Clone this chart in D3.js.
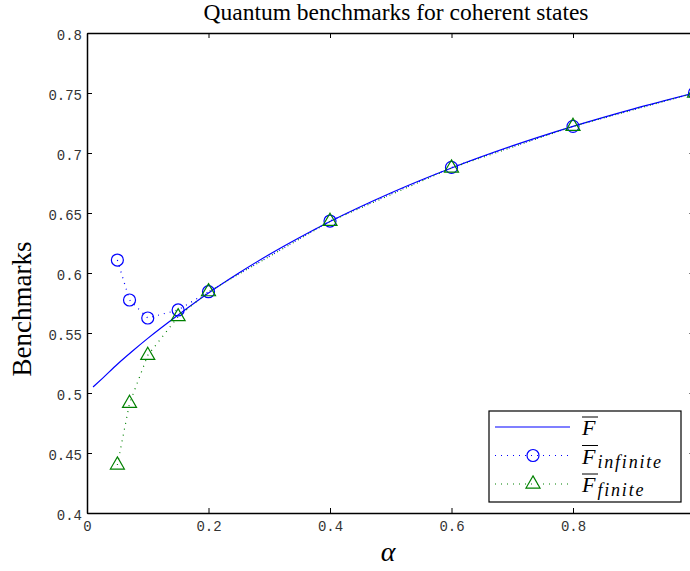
<!DOCTYPE html>
<html>
<head>
<meta charset="utf-8">
<script src="https://cdn.jsdelivr.net/npm/d3@7"></script>
<style>
  body { margin: 0; background: #fff; }
  .tick text { font-family: "Liberation Mono", "DejaVu Sans Mono", monospace; font-size: 14px; fill: #333; }
</style>
</head>
<body>
<div id="chart"></div>
<script>
// curve F(alpha)
const alphaCurve = [0.01, 0.025, 0.05, 0.075, 0.1, 0.15, 0.2, 0.25, 0.3, 0.35, 0.4, 0.5, 0.6, 0.7, 0.8, 0.9, 1.0]
const fCurve = [0.505, 0.512, 0.524, 0.535, 0.5455, 0.565, 0.5833, 0.600, 0.6154, 0.6296, 0.6429, 0.6667, 0.6875, 0.7059, 0.7222, 0.7368, 0.75]

// marker series
const alphaPts = [0.05, 0.07, 0.1, 0.15, 0.2, 0.4, 0.6, 0.8, 1.0]
const fInfinite = [0.6108, 0.5775, 0.5625, 0.5692, 0.5844, 0.6433, 0.688, 0.7222, 0.75]
const fFinite = [0.44, 0.4914, 0.5314, 0.5636, 0.5844, 0.643, 0.6875, 0.7222, 0.75]

const xTicks = [0, 0.2, 0.4, 0.6, 0.8, 1]
const yTicks = [0.4, 0.45, 0.5, 0.55, 0.6, 0.65, 0.7, 0.75, 0.8]

const W = 690, H = 571
const margin = {top: 33, left: 87}
const plotW = 607.5, plotH = 480

const svg = d3.select('#chart').append('svg')
  .attr('width', W).attr('height', H)

const x = d3.scaleLinear().domain([0, 1]).range([margin.left, margin.left + plotW])
const y = d3.scaleLinear().domain([0.4, 0.8]).range([margin.top + plotH, margin.top])

const blue = '#0000ff', green = '#008000'

// axes (MATLAB style, ticks inward)
const fmt = d => d === 0 ? '0' : (d === 1 ? '1' : String(d))
svg.append('g')
  .attr('transform', `translate(0,${y(0.4)})`)
  .call(d3.axisBottom(x).tickValues(xTicks.filter(d => d < 1)).tickSizeInner(-5).tickSizeOuter(0).tickPadding(8).tickFormat(fmt))
svg.append('g')
  .attr('transform', `translate(0,${y(0.8)})`)
  .call(d3.axisTop(x).tickValues(xTicks).tickSizeInner(-5).tickSizeOuter(0).tickFormat(''))
svg.append('g')
  .attr('class', 'yax')
  .attr('transform', `translate(${x(0)},0)`)
  .call(d3.axisLeft(y).tickValues(yTicks).tickSizeInner(-5).tickSizeOuter(0).tickPadding(5).tickFormat(d => String(+d.toFixed(2))))
svg.append('g')
  .attr('transform', `translate(${x(1)},0)`)
  .call(d3.axisRight(y).tickValues(yTicks).tickSizeInner(-5).tickSizeOuter(0).tickFormat(''))
svg.selectAll('.domain').attr('stroke', '#000').attr('stroke-width', 1.5)
svg.selectAll('.tick line').attr('stroke', '#000')
svg.selectAll('.yax .tick text').attr('dy', '0.45em')

// curve
const line = d3.line().x(d => x(d[0])).y(d => y(d[1]))
svg.append('path')
  .datum(d3.zip(alphaCurve, fCurve))
  .attr('d', line.curve(d3.curveMonotoneX))
  .attr('fill', 'none').attr('stroke', blue).attr('stroke-width', 1.2)

const dotted = d3.line().x(d => x(d[0])).y(d => y(d[1]))
svg.append('path')
  .datum(d3.zip(alphaPts, fInfinite))
  .attr('d', dotted)
  .attr('fill', 'none').attr('stroke', blue).attr('stroke-width', 1.2).attr('stroke-dasharray', '1,5')
svg.append('path')
  .datum(d3.zip(alphaPts, fFinite))
  .attr('d', dotted)
  .attr('fill', 'none').attr('stroke', green).attr('stroke-width', 1.2).attr('stroke-dasharray', '1,5')

svg.selectAll('.circ')
  .data(d3.zip(alphaPts, fInfinite))
  .enter().append('circle')
  .attr('cx', d => x(d[0])).attr('cy', d => y(d[1])).attr('r', 6)
  .attr('fill', 'none').attr('stroke', blue).attr('stroke-width', 1.2)

const tri = d3.symbol().type(d3.symbolTriangle).size(85)
svg.selectAll('.tri')
  .data(d3.zip(alphaPts, fFinite))
  .enter().append('path')
  .attr('d', tri)
  .attr('transform', d => `translate(${x(d[0])},${y(d[1])})`)
  .attr('fill', 'none').attr('stroke', green).attr('stroke-width', 1.2)

// titles
svg.append('text')
  .attr('x', 396).attr('y', 20)
  .attr('text-anchor', 'middle')
  .style('font-family', '"Liberation Serif", "DejaVu Serif", serif')
  .style('font-size', '23.5px')
  .text('Quantum benchmarks for coherent states')

svg.append('text')
  .attr('transform', 'translate(31,309) rotate(-90)')
  .attr('text-anchor', 'middle')
  .style('font-family', '"Liberation Serif", "DejaVu Serif", serif')
  .style('font-size', '27px')
  .text('Benchmarks')

svg.append('text')
  .attr('x', 388).attr('y', 561)
  .attr('text-anchor', 'middle')
  .style('font-family', '"Liberation Serif", "DejaVu Serif", serif')
  .style('font-style', 'italic')
  .style('font-size', '28px')
  .text('α')

// legend
const legend = svg.append('g').attr('transform', 'translate(489,411)')
legend.append('rect')
  .attr('width', 192).attr('height', 91)
  .attr('fill', '#fff').attr('stroke', '#000').attr('stroke-width', 1.2)

const entries = [
  {sub: '', color: blue, kind: 'line'},
  {sub: 'infinite', color: blue, kind: 'circle'},
  {sub: 'finite', color: green, kind: 'tri'}
]
entries.forEach((e, i) => {
  const cy = 16 + i * 28.5
  const g = legend.append('g').attr('transform', `translate(0,${cy})`)
  g.append('line').attr('x1', 6).attr('x2', 81).attr('y1', 0).attr('y2', 0)
    .attr('stroke', e.color).attr('stroke-width', 1.2)
    .attr('stroke-dasharray', e.kind === 'line' ? null : '1,5')
  if (e.kind === 'circle') {
    g.append('circle').attr('cx', 44).attr('cy', 0).attr('r', 6)
      .attr('fill', 'none').attr('stroke', e.color).attr('stroke-width', 1.2)
  } else if (e.kind === 'tri') {
    g.append('path').attr('d', tri).attr('transform', 'translate(44,0)')
      .attr('fill', 'none').attr('stroke', e.color).attr('stroke-width', 1.2)
  }
  const t = g.append('text').attr('x', 93).attr('y', 8)
    .style('font-family', '"Liberation Serif", "DejaVu Serif", serif')
    .style('font-style', 'italic')
    .style('font-size', '22px')
  t.append('tspan').text('F')
  if (e.sub) {
    t.append('tspan').attr('dx', 2).attr('dy', 4).style('font-size', '18px').style('letter-spacing', '1.8px').text(e.sub)
  }
  g.append('line').attr('x1', 93).attr('x2', 109).attr('y1', -10).attr('y2', -10)
    .attr('stroke', '#000').attr('stroke-width', 1)
})
</script>
</body>
</html>
